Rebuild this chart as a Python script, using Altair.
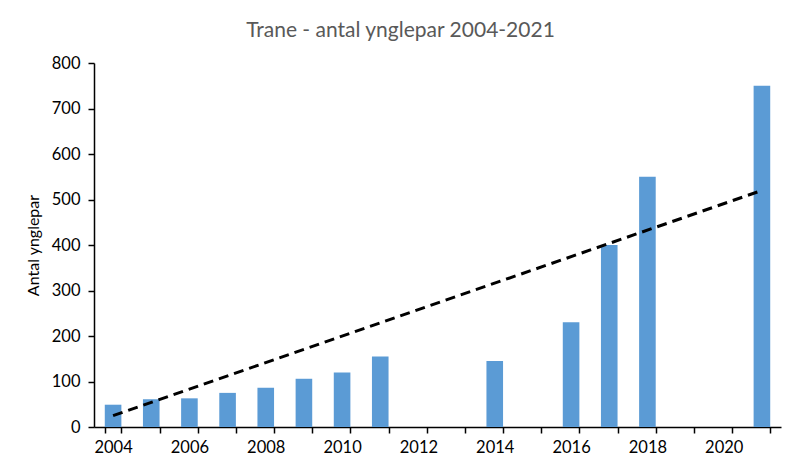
import altair as alt
import pandas as pd

# Categories (years) and breeding pairs
years = ["2004", "2005", "2006", "2007", "2008", "2009", "2010", "2011", "2012",
         "2013", "2014", "2015", "2016", "2017", "2018", "2019", "2020", "2021"]
pairs = [49, 61, 63, 75, 86, 106, 120, 155, None, None, 145, None, 230, 400, 550, None, None, 750]

# Linear trendline end points
trend_years = ["2004", "2021"]
trend_values = [25, 520]

df = pd.DataFrame({"year": years, "pairs": pairs})
trend = pd.DataFrame({"year": trend_years, "pairs": trend_values})

FONT = "Lato"

xscale = alt.Scale(domain=years, paddingInner=0.565, paddingOuter=0.2825)
xaxis = alt.Axis(
    title=None, labelAngle=0, tickBand="extent",
    labelExpr="toNumber(datum.value) % 2 == 0 ? datum.value : ''",
    labelFont=FONT, labelFontSize=16.5, labelColor="black",
    domainColor="black", domainWidth=1.5, tickColor="black", tickWidth=1.5,
    tickSize=6, labelPadding=6, grid=False,
)
yaxis = alt.Axis(
    title="Antal ynglepar", values=[0, 100, 200, 300, 400, 500, 600, 700, 800],
    labelFont=FONT, labelFontSize=16.5, labelColor="black",
    titleFont=FONT, titleFontSize=16, titleFontWeight="normal", titleColor="black",
    titlePadding=10, domainColor="black", domainWidth=1.5, tickColor="black",
    tickWidth=1.5, tickSize=6, labelPadding=8, grid=False,
)
yscale = alt.Scale(domain=[0, 800], nice=False)

bars = alt.Chart(df).mark_bar(color="#5B9BD5").encode(
    x=alt.X("year:O", scale=xscale, axis=xaxis),
    y=alt.Y("pairs:Q", scale=yscale, axis=yaxis),
)

line = alt.Chart(trend).mark_line(color="black", strokeDash=[10, 6], strokeWidth=3).encode(
    x=alt.X("year:O", scale=xscale, axis=xaxis),
    y=alt.Y("pairs:Q", scale=yscale, axis=yaxis),
)

chart = alt.layer(bars, line).properties(
    width=687,
    height=364,
    autosize="none",
    padding={"left": 86, "top": 55, "right": 11, "bottom": 38},
    title=alt.TitleParams(
        "Trane - antal ynglepar 2004-2021",
        font=FONT, fontSize=21, fontWeight="normal", color="#595959",
        anchor="middle", dx=-37, offset=14,
    ),
).configure_view(stroke=None)

chart.save("out.html", embed_options={"renderer": "svg", "actions": False})
